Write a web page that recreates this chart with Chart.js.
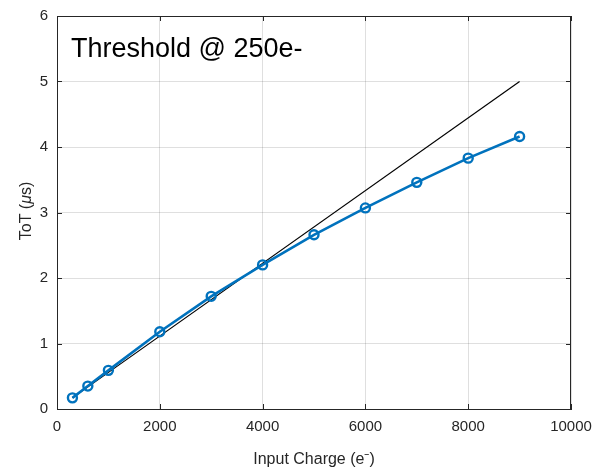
<!DOCTYPE html>
<html>
<head>
<meta charset="utf-8">
<script src="https://cdn.jsdelivr.net/npm/chart.js@4"></script>
<style>
    html, body { margin: 0; padding: 0; background: #fff; }
    #wrap { width: 594px; height: 469px; }
</style>
</head>
<body>
<div id="wrap"><canvas id="totChart" width="594" height="469"></canvas></div>
<script>
// measured ToT vs input charge
const charges = [300, 600, 1000, 2000, 3000, 4000, 5000, 6000, 7000, 8000, 9000];
const totValues = [0.17, 0.35, 0.59, 1.18, 1.72, 2.20, 2.66, 3.07, 3.46, 3.83, 4.16];

// ideal linear reference
const idealCharges = [300, 9000];
const idealValues = [0.17, 5.0];

const xTicks = [0, 2000, 4000, 6000, 8000, 10000];
const yTicks = [0, 1, 2, 3, 4, 5, 6];

const AXIS_COLOR = '#262626';
const FONT = '"Liberation Sans", Arial, sans-serif';

// MATLAB-ish box with inward ticks, the annotation and the y label
const boxPlugin = {
    id: 'matlabBox',
    afterDraw(chart) {
        const {ctx, chartArea: a, scales: {x, y}} = chart;
        ctx.save();
        ctx.strokeStyle = AXIS_COLOR;
        ctx.lineWidth = 1;
        ctx.strokeRect(a.left + 0.5, a.top + 0.5, a.right - a.left - 1, a.bottom - a.top);
        const len = 5;
        ctx.beginPath();
        xTicks.forEach(v => {
            const px = Math.round(x.getPixelForValue(v)) + 0.5;
            ctx.moveTo(px, a.bottom); ctx.lineTo(px, a.bottom - len);
            ctx.moveTo(px, a.top); ctx.lineTo(px, a.top + len);
        });
        yTicks.forEach(v => {
            const py = Math.round(y.getPixelForValue(v)) + 0.5;
            ctx.moveTo(a.left, py); ctx.lineTo(a.left + len, py);
            ctx.moveTo(a.right, py); ctx.lineTo(a.right - len, py);
        });
        ctx.stroke();

        // annotation
        ctx.fillStyle = '#000';
        ctx.font = '27px ' + FONT;
        ctx.textBaseline = 'alphabetic';
        ctx.fillText('Threshold @ 250e-', 71, 57);

        // y axis label with italic mu
        ctx.translate(31, 211);
        ctx.rotate(-Math.PI / 2);
        ctx.fillStyle = AXIS_COLOR;
        const parts = [['ToT (', '16px '], ['\u03BC', 'italic 16px '], ['s)', '16px ']];
        let total = 0;
        parts.forEach(p => { ctx.font = p[1] + FONT; total += ctx.measureText(p[0]).width; });
        let cx = -total / 2;
        parts.forEach(p => {
            ctx.font = p[1] + FONT;
            ctx.fillText(p[0], cx, 0);
            cx += ctx.measureText(p[0]).width;
        });
        ctx.restore();
    }
};

new Chart(document.getElementById('totChart'), {
    type: 'scatter',
    data: {
        datasets: [
            {
                label: 'ideal',
                data: idealCharges.map((c, i) => ({x: c, y: idealValues[i]})),
                showLine: true,
                borderColor: '#000',
                borderWidth: 1.2,
                pointRadius: 0,
                order: 2
            },
            {
                label: 'ToT',
                data: charges.map((c, i) => ({x: c, y: totValues[i]})),
                showLine: true,
                borderColor: '#0072BD',
                backgroundColor: 'rgba(0,0,0,0)',
                borderWidth: 2.6,
                pointRadius: 4.5,
                pointBorderWidth: 2.4,
                pointBorderColor: '#0072BD',
                pointBackgroundColor: 'rgba(0,0,0,0)',
                order: 1
            }
        ]
    },
    options: {
        responsive: false,
        animation: false,
        layout: { padding: { left: 0, right: 23, top: 16, bottom: 0 } },
        plugins: { legend: { display: false }, tooltip: { enabled: false } },
        scales: {
            x: {
                type: 'linear',
                min: 0, max: 10000,
                afterBuildTicks: s => { s.ticks = xTicks.map(v => ({value: v})); },
                afterFit: s => { s.height = 60; s.paddingLeft = 0; s.paddingRight = 0; },
                grid: { color: 'rgba(38,38,38,0.15)', drawTicks: false },
                border: { display: true, color: AXIS_COLOR },
                ticks: {
                    color: AXIS_COLOR, font: { family: FONT, size: 15 }, padding: 9, maxRotation: 0,
                    callback: v => String(v)
                },
                title: {
                    display: true, text: 'Input Charge (e\u207B)', color: AXIS_COLOR,
                    font: { family: FONT, size: 16 }, padding: { top: 6, bottom: 0 }
                }
            },
            y: {
                type: 'linear',
                min: 0, max: 6,
                afterBuildTicks: s => { s.ticks = yTicks.map(v => ({value: v})); },
                afterFit: s => { s.width = 57; s.paddingTop = 0; s.paddingBottom = 0; },
                grid: { color: 'rgba(38,38,38,0.15)', drawTicks: false },
                border: { display: true, color: AXIS_COLOR },
                ticks: { color: AXIS_COLOR, font: { family: FONT, size: 15 }, padding: 9, callback: v => String(v) }
            }
        }
    },
    plugins: [boxPlugin]
});
</script>
</body>
</html>
